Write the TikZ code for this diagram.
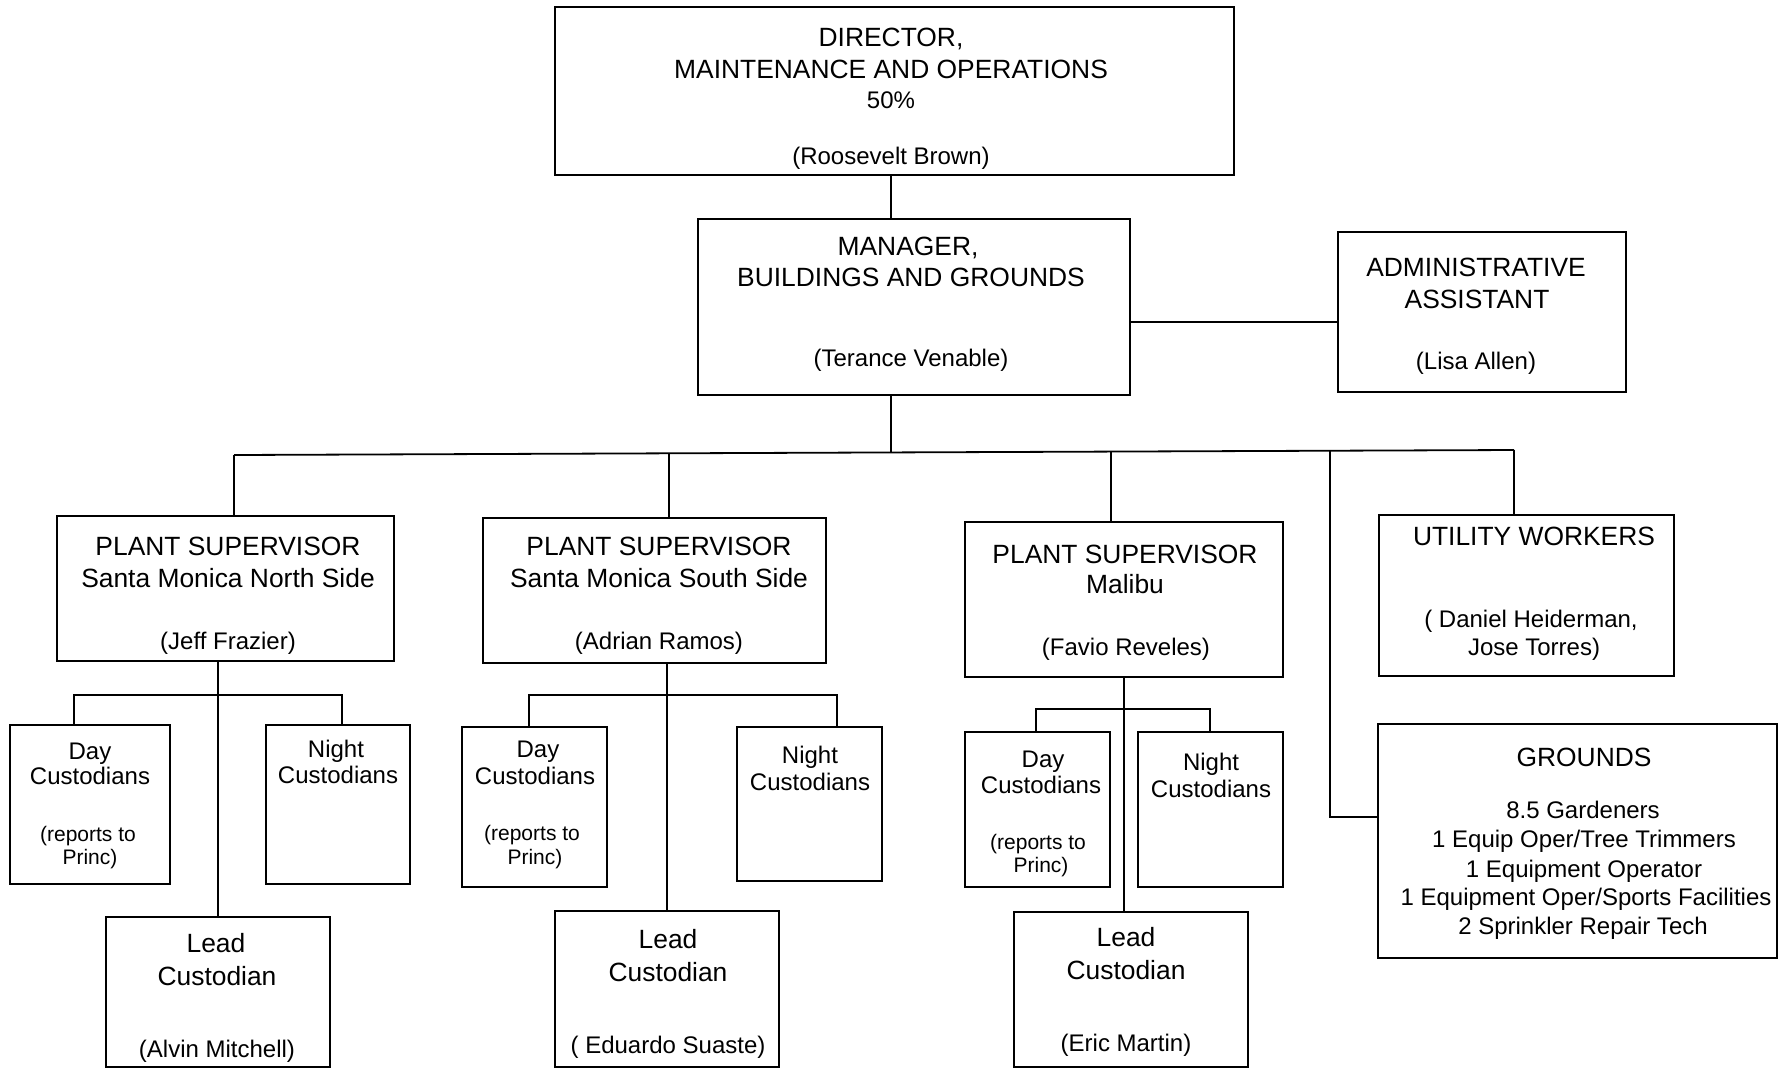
\documentclass[tikz,border=0pt]{standalone}
\usepackage{fontspec}
\setmainfont{Liberation Sans}
\newcommand\mkbox[5]{\node[bx, minimum width={#4-#2}, minimum height={#5-#3}] (#1) at ({(#2+#4)/2},{(#3+#5)/2}) {};}
\begin{document}
\begin{tikzpicture}[x=1pt,y=-1pt,
 bx/.style={draw, line width=2pt, inner sep=0pt, outer sep=0pt},
 ln/.style={line width=1.8pt},
 tt/.style={font=\fontsize{26.4}{30}\selectfont, anchor=base, inner sep=0pt},
 nm/.style={font=\fontsize{24}{28}\selectfont, anchor=base, inner sep=0pt},
 sm/.style={font=\fontsize{21}{25}\selectfont, anchor=base, inner sep=0pt}]
\useasboundingbox (0,0) rectangle (1785,1069);
% boxes
\mkbox{dir}{555}{7}{1234}{175}
\mkbox{mgr}{698}{219}{1130}{395}
\mkbox{adm}{1338}{232}{1626}{392}
\mkbox{psn}{57}{516}{394}{661}
\mkbox{pss}{483}{518}{826}{663}
\mkbox{psm}{965}{522}{1283}{677}
\mkbox{util}{1379}{515}{1674}{676}
\mkbox{grd}{1378}{724}{1777}{958}
\mkbox{dayN}{10}{725}{170}{884}
\mkbox{nightN}{266}{725}{410}{884}
\mkbox{leadN}{106}{917}{330}{1067}
\mkbox{dayS}{462}{727}{607}{887}
\mkbox{nightS}{737}{727}{882}{881}
\mkbox{leadS}{555}{911}{779}{1067}
\mkbox{dayM}{965}{732}{1110}{887}
\mkbox{nightM}{1138}{732}{1283}{887}
\mkbox{leadM}{1014}{912}{1248}{1067}
% texts
\node[tt] (dirA) at (891,46.5) {DIRECTOR,};
\node[tt] (dirB) at (891,78) {MAINTENANCE AND OPERATIONS};
\node[nm] (dirC) at (891,108.6) {50\%};
\node[nm] (dirD) at (891,164.6) {(Roosevelt Brown)};
\node[tt] (mgrA) at (908,255) {MANAGER,};
\node[tt] (mgrB) at (911,286.1) {BUILDINGS AND GROUNDS};
\node[nm] (mgrC) at (911,366.6) {(Terance Venable)};
\node[tt] (admA) at (1476,276.5) {ADMINISTRATIVE};
\node[tt] (admB) at (1477,308) {ASSISTANT};
\node[nm] (admC) at (1476,369.6) {(Lisa Allen)};
\node[tt] (psnA) at (228,555.8) {PLANT SUPERVISOR};
\node[tt] (psnB) at (228,587.1) {Santa Monica North Side};
\node[nm] (psnC) at (228,649.2) {(Jeff Frazier)};
\node[tt] (pssA) at (659,555.8) {PLANT SUPERVISOR};
\node[tt] (pssB) at (659,587.1) {Santa Monica South Side};
\node[nm] (pssC) at (659,649.2) {(Adrian Ramos)};
\node[tt] (psmA) at (1125,563) {PLANT SUPERVISOR};
\node[tt] (psmB) at (1125,593.9) {Malibu};
\node[nm] (psmC) at (1126,655.2) {(Favio Reveles)};
\node[tt] (utilA) at (1534,545.8) {UTILITY WORKERS};
\node[nm] (utilB) at (1531,627.1) {( Daniel Heiderman,};
\node[nm] (utilC) at (1534,655.2) {Jose Torres)};
\node[tt] (grdA) at (1584,766.4) {GROUNDS};
\node[nm] (grdB) at (1583,818.4) {8.5 Gardeners};
\node[nm] (grdC) at (1584,847.7) {1 Equip Oper/Tree Trimmers};
\node[nm] (grdD) at (1584,877) {1 Equipment Operator};
\node[nm] (grdE) at (1586,905.9) {1 Equipment Oper/Sports Facilities};
\node[nm] (grdF) at (1583,934) {2 Sprinkler Repair Tech};
\node[nm] (dayNA) at (90,759.5) {Day};
\node[nm] (dayNB) at (90,784.7) {Custodians};
\node[sm] (dayNC) at (88,841.8) {(reports to};
\node[sm] (dayND) at (90,864.7) {Princ)};
\node[nm] (nightNA) at (336,757.5) {Night};
\node[nm] (nightNB) at (338,783.5) {Custodians};
\node[tt] (leadNA) at (216,952.9) {Lead};
\node[tt] (leadNB) at (217,985) {Custodian};
\node[nm] (leadNC) at (217,1057.5) {(Alvin Mitchell)};
\node[nm] (daySA) at (538,757.5) {Day};
\node[nm] (daySB) at (535,784.7) {Custodians};
\node[sm] (daySC) at (532,840.6) {(reports to};
\node[sm] (daySD) at (535,864.7) {Princ)};
\node[nm] (nightSA) at (810,763.5) {Night};
\node[nm] (nightSB) at (810,790.4) {Custodians};
\node[tt] (leadSA) at (668,948.9) {Lead};
\node[tt] (leadSB) at (668,981) {Custodian};
\node[nm] (leadSC) at (668,1053.5) {( Eduardo Suaste)};
\node[nm] (dayMA) at (1043,767.5) {Day};
\node[nm] (dayMB) at (1041,793.6) {Custodians};
\node[sm] (dayMC) at (1038,849.8) {(reports to};
\node[sm] (dayMD) at (1041,872.7) {Princ)};
\node[nm] (nightMA) at (1211,770.7) {Night};
\node[nm] (nightMB) at (1211,797.6) {Custodians};
\node[tt] (leadMA) at (1126,946.9) {Lead};
\node[tt] (leadMB) at (1126,979) {Custodian};
\node[nm] (leadMC) at (1126,1051.1) {(Eric Martin)};
% connectors
\coordinate (cD) at (891,0);
\coordinate (hA) at (0,322);
\coordinate (busL) at (234,455);
\coordinate (busR) at (1514,450);
\coordinate (bMg) at (891,452.4);
\coordinate (bS) at (669,453.3);
\coordinate (bM) at (1111,451.6);
\coordinate (bG) at (1330,450.7);
\coordinate (gJ) at (1330,817);
\draw[ln] (dir.south -| cD) -- (mgr.north -| cD);
\draw[ln] (mgr.east |- hA) -- (adm.west |- hA);
\draw[ln] (mgr.south -| cD) -- (bMg);
\draw[ln] (busL) -- (busR);
\draw[ln] (busL) -- (psn.north -| busL);
\draw[ln] (bS) -- (pss.north -| bS);
\draw[ln] (bM) -- (psm.north -| bM);
\draw[ln] (bG) -- (gJ) -- (grd.west |- gJ);
\draw[ln] (busR) -- (util.north -| busR);
% north plant
\coordinate (nV) at (218,0);
\coordinate (nL) at (74,695);
\coordinate (nR) at (342,695);
\draw[ln] (psn.south -| nV) -- (leadN.north -| nV);
\draw[ln] (dayN.north -| nL) -- (nL) -- (nR) -- (nightN.north -| nR);
% south plant
\coordinate (sV) at (667,0);
\coordinate (sL) at (529,695);
\coordinate (sR) at (837,695);
\draw[ln] (pss.south -| sV) -- (leadS.north -| sV);
\draw[ln] (dayS.north -| sL) -- (sL) -- (sR) -- (nightS.north -| sR);
% malibu plant
\coordinate (mV) at (1124,0);
\coordinate (mL) at (1036,709);
\coordinate (mR) at (1210,709);
\draw[ln] (psm.south -| mV) -- (leadM.north -| mV);
\draw[ln] (dayM.north -| mL) -- (mL) -- (mR) -- (nightM.north -| mR);
\end{tikzpicture}
\end{document}
